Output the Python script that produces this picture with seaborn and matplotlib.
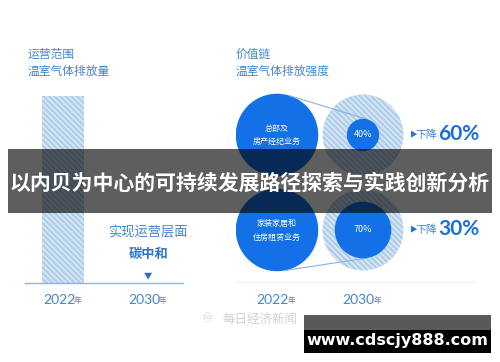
import math
import matplotlib
matplotlib.use('Agg')
import matplotlib.pyplot as plt
import seaborn as sns
import pandas as pd
from matplotlib.patches import Circle, Rectangle

# data read from the infographic
years = ['2022', '2030']
ops_emission = [100, 0]                 # 运营范围温室气体排放量 (2030 碳中和)
segments = ['总部及\n房产经纪业务', '家装家居和\n住房租赁业务']
intensity_2022 = [100, 100]
intensity_2030 = [40, 70]               # % of 2022 level
drops = ['60%', '30%']

BLUE = '#1470e6'
LIGHT = '#3f86d6'
HFACE = '#b2cfe9'
HLINE = '#e8f1fa'

sns.set_theme(style='white')
plt.rcParams['font.family'] = ['Noto Sans CJK SC', 'DejaVu Sans']
plt.rcParams['hatch.linewidth'] = 0.8

fig = plt.figure(figsize=(5, 3.62), dpi=100)
W, H = 500, 362

def px_axes(x0, y0, x1, y1):
    return fig.add_axes([x0 / W, 1 - y1 / H, (x1 - x0) / W, (y1 - y0) / H])

# ---- left: operational emissions bar ----
ax = px_axes(25, 96, 183, 283)
df = pd.DataFrame({'year': years, 'val': ops_emission})
sns.barplot(data=df, x='year', y='val', ax=ax, width=0.5, color=HFACE,
            edgecolor=HLINE, linewidth=0, hatch='\\\\\\\\\\\\', saturation=1)
ax.set_xlim(-0.45, 1.41)
ax.set_ylim(0, 100)
ax.set_xlabel('')
ax.set_ylabel('')
ax.set_yticks([])
ax.set_xticks([])
for s in ['top', 'right', 'left']:
    ax.spines[s].set_visible(False)
ax.spines['bottom'].set_color('#8db4dd')
ax.spines['bottom'].set_linewidth(1.0)
ax.patch.set_alpha(0)

def year_labels(a, xs):
    for x, y in zip(xs, years):
        a.annotate(y, (x, 0), xycoords=('data', 'axes fraction'), xytext=(-3, -12),
                   textcoords='offset points', ha='center', va='center',
                   fontsize=10, color=LIGHT, family=['Lato', 'DejaVu Sans'])
        a.annotate('年', (x, 0), xycoords=('data', 'axes fraction'), xytext=(10.5, -13),
                   textcoords='offset points', ha='center', va='center',
                   fontsize=5.5, color=LIGHT)

year_labels(ax, [0, 1])
ax.text(1, 0.27, '实现运营层面', transform=ax.get_xaxis_transform(), ha='center',
        va='center', fontsize=9.5, color=LIGHT, fontweight='medium')
ax.text(1, 0.155, '碳中和', transform=ax.get_xaxis_transform(), ha='center',
        va='center', fontsize=9.5, color='#2f74cc', fontweight='bold')
ax.text(1, 0.04, '▼', transform=ax.get_xaxis_transform(), ha='center', va='center',
        fontsize=6, color='#2f6fc0')

fig.text(28 / W, 1 - 63 / H, '运营范围\n温室气体排放量', ha='left', va='center',
         fontsize=8.5, color=LIGHT, linespacing=1.45, fontweight='medium')

# ---- right: value chain intensity circles ----
ax2 = px_axes(236, 90, 475, 283)
unit = 86.0
ax2.set_xlim((236 - 277) / unit, (475 - 277) / unit)
ax2.set_ylim((230 - 283) / unit, (230 - 90) / unit)
ax2.set_aspect('equal')
ax2.axis('off')
ax2.axhline((230 - 283) / unit, color='#8db4dd', lw=1.0)
rows = [1.105, 0.0]
R = 0.47 / 100

for yc, seg, v0, v1, d in zip(rows, segments, intensity_2022, intensity_2030, drops):
    r0 = v0 * R * 1.02
    ax2.add_patch(Circle((0, yc), r0, color=BLUE, lw=0))
    ax2.add_patch(Circle((1, yc), v0 * R, facecolor=HFACE, edgecolor=HLINE,
                         hatch='\\\\\\\\\\\\', lw=0))
    r1 = v1 * R
    # external tangent line between the two solid circles
    s = (r0 - r1) / 1.0
    c = math.sqrt(1 - s * s)
    sign = 1 if yc > 0.5 else -1
    ax2.plot([s * r0, 1 + s * r1], [yc + sign * c * r0, yc + sign * c * r1],
             color='#8fb2d8', lw=0.8, zorder=3)
    ax2.add_patch(Circle((1, yc), r1, color=BLUE, lw=0, zorder=4))
    ax2.text(0, yc, seg, ha='center', va='center', fontsize=5.8, color='white',
             linespacing=1.7, zorder=5)
    ax2.text(1, yc, f'{v1}%', ha='center', va='center', fontsize=6.5, color='white',
             zorder=5)
    ax2.text(1.53, yc, '▶', ha='left', va='center', fontsize=5.5, color='#2c74d0')
    ax2.text(1.615, yc, '下降', ha='left', va='center', fontsize=7.8, color=LIGHT)
    ax2.text(1.875, yc + 0.01, d, ha='left', va='center', fontsize=15, color='#1a6fe0',
             fontweight='bold', family=['Lato', 'DejaVu Sans'])

year_labels(ax2, [0, 1])
fig.text(236 / W, 1 - 63 / H, '价值链\n温室气体排放强度', ha='left', va='center',
         fontsize=8.5, color=LIGHT, linespacing=1.45, fontweight='medium')

# ---- overlays: banner title, watermark, site box ----
fig.patches.append(Rectangle((8 / W, 1 - 213 / H), 484 / W, 64 / H, transform=fig.transFigure,
                             color='black', alpha=0.63, lw=0, zorder=10))
fig.text(250 / W, 1 - 183 / H, '以内贝为中心的可持续发展路径探索与实践创新分析', ha='center',
         va='center', fontsize=15, color='white', fontweight='bold', zorder=11)
fig.text(208 / W, 1 - 319 / H, '♾', ha='center', va='center', fontsize=9,
         color='#d4d4d4', zorder=11, family=['DejaVu Sans'])
fig.text(260 / W, 1 - 319 / H, '每日经济新闻', ha='center', va='center', fontsize=9,
         color='#d0d0d0', zorder=11)
fig.patches.append(Rectangle((304 / W, 1 - 331 / H), 187 / W, 16 / H, transform=fig.transFigure,
                             color='#595959', lw=0, zorder=10))
fig.patches.append(Rectangle((304 / W, 1 - 353 / H), 187 / W, 23 / H, transform=fig.transFigure,
                             color='black', lw=0, zorder=10))
fig.text(397 / W, 1 - 340 / H, 'www.cdscjy888.com', ha='center', va='center', fontsize=11.5,
         color='white', fontweight='bold', family=['DejaVu Sans'], zorder=11)

fig.savefig('out.png', dpi=100)
